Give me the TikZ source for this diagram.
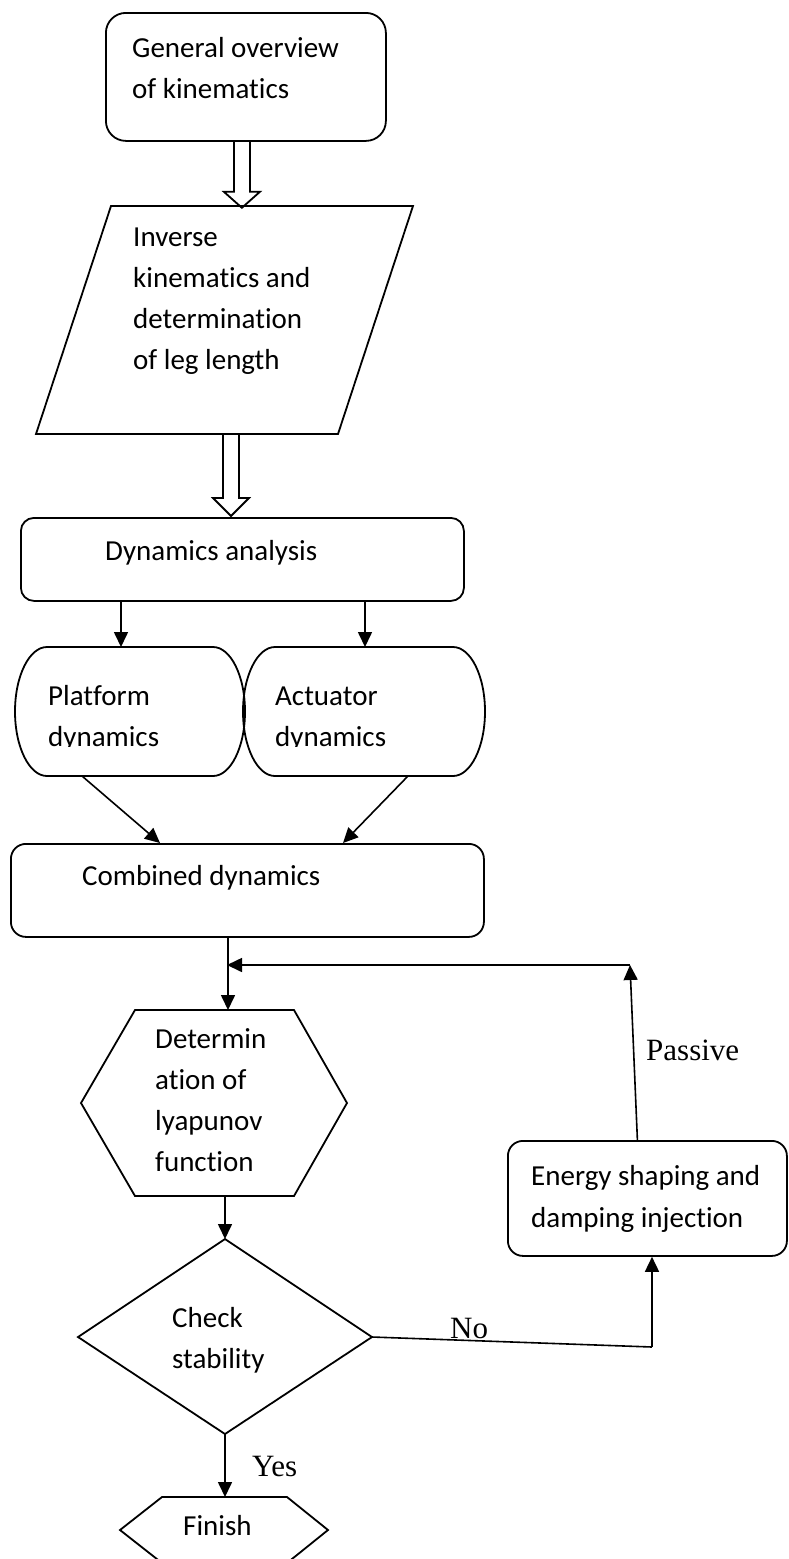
\documentclass[tikz,border=0pt]{standalone}
\usepackage{fontspec}
\setmainfont{Carlito}[Ligatures=NoCommon]
\newfontfamily\serifrm{Liberation Serif}
\usetikzlibrary{arrows.meta,calc}
\newcommand\linesof[1]{\begin{tabular}[t]{@{}l@{}}#1\end{tabular}}

\begin{document}
\begin{tikzpicture}[x=1pt,y=-1pt,
  outline/.style={draw=black,line width=1.8pt,line join=miter},
  boxr/.style={outline,rectangle,rounded corners=#1,inner sep=0pt,anchor=north west},
  flow/.style={line width=1.6pt,-{Triangle[length=15pt,width=14pt]}},
  plainline/.style={line width=1.6pt},
  txt/.style={anchor=base west,inner sep=0pt,font=\fontsize{29}{41}\selectfont},
  lbl/.style={anchor=base west,inner sep=0pt,font=\serifrm\fontsize{31}{36}\selectfont},
]
\useasboundingbox (0,0) rectangle (788,1559);
\clip (0,0) rectangle (788,1559);

% ---- general overview
\node[boxr=20, minimum width=280, minimum height=128] (gen) at (105,12) {};
\node[txt] at (132,57) {\linesof{General overview\\of kinematics}};

% block arrow into the inverse kinematics step
\coordinate (ba1) at ($(gen.south)+(-4,0)$);
\draw[outline] ($(ba1)+(-8,0)$) -- ++(0,50) -- ++(-10,0) -- ++(18,16) -- ++(18,-16) -- ++(-10,0) -- ++(0,-50);

% ---- inverse kinematics (parallelogram)
\draw[outline] (111,206) coordinate (invTL) -- (413,206) -- (338,434) -- (36,434) -- cycle;
\node[txt] at (133,246) {\linesof{Inverse\\kinematics and\\determination\\of leg length}};

% block arrow into dynamics analysis
\coordinate (invB) at (231,434);
\draw[outline] ($(invB)+(-8,0)$) -- ++(0,64) -- ++(-10,0) -- ++(18,18) -- ++(18,-18) -- ++(-10,0) -- ++(0,-64);

% ---- dynamics analysis
\node[boxr=13, minimum width=443, minimum height=83] (dyn) at (20,517) {};
\node[txt] at (105,560) {Dynamics analysis};

% ---- platform and actuator dynamics (terminator-like shapes)
\draw[outline] (47,647) -- (213,647) arc[start angle=-90,end angle=90,x radius=32,y radius=64.5]
  -- (47,776) arc[start angle=90,end angle=270,x radius=32,y radius=64.5] -- cycle;
\draw[outline] (275,647) -- (453,647) arc[start angle=-90,end angle=90,x radius=32,y radius=64.5]
  -- (275,776) arc[start angle=90,end angle=270,x radius=32,y radius=64.5] -- cycle;
\coordinate (platT) at (121,647);
\coordinate (actT) at (365,647);
\coordinate (platB) at (82,776);
\coordinate (actB) at (408,776);
\begin{scope}
  \clip (0,0) rectangle (788,746);
  \node[txt] at (48,705) {\linesof{Platform\\dynamics}};
  \node[txt] at (275,705) {\linesof{Actuator\\dynamics}};
\end{scope}
\draw[flow] (platT |- dyn.south) -- (platT);
\draw[flow] (actT |- dyn.south) -- (actT);

% ---- combined dynamics
\node[boxr=15, minimum width=473, minimum height=93] (comb) at (10,843) {};
\node[txt] at (82,885) {Combined dynamics};
\coordinate (combL) at (160,843);
\coordinate (combR) at (343,843);
\draw[flow] (platB) -- (combL);
\draw[flow] (actB) -- (combR);

% ---- lyapunov function (hexagon)
\draw[outline] (135,1010) -- (294,1010) -- (347,1103) -- (294,1196) -- (135,1196) -- (81,1103) -- cycle;
\node[txt] at (155,1048) {\fontsize{29}{41.3}\selectfont\linesof{Determin\\ation of\\lyapunov\\function}};
\coordinate (hexT) at (228,1010);
\coordinate (hexB) at (225,1196);
\draw[flow] (hexT |- comb.south) -- (hexT);

% ---- stability check (diamond)
\draw[outline] (225,1239) coordinate (chkT) -- (372,1337) coordinate (chkR)
  -- (225,1434) coordinate (chkB) -- (78,1337) -- cycle;
\node[txt] at (172,1327) {\linesof{Check\\stability}};
\draw[flow] (hexB) -- (chkT);

% ---- energy shaping
\node[boxr=15, minimum width=279, minimum height=115] (eng) at (507,1140) {};
\node[txt] at (531,1185) {\fontsize{29}{42}\selectfont\linesof{Energy shaping and\\damping injection}};

% "No" branch into energy shaping
\coordinate (noC) at (652,1347);
\draw[plainline] (chkR) -- (noC);
\draw[flow] (noC) -- (noC |- eng.south);
\node[lbl] at (450,1338) {No};

% "Passive" feedback to the main flow
\coordinate (fbC) at (630,965);
\coordinate (join) at (227,965);
\draw[flow] ($(eng.north)+(-10,0)$) -- (fbC);
\draw[flow] (fbC) -- (join);
\node[lbl] at (646,1060) {Passive};

% ---- finish
\draw[outline] (162,1497) coordinate (finT) -- (287,1497) -- (328,1530) -- (287,1563) -- (162,1563) -- (120,1530) -- cycle;
\node[txt] at (183,1535) {Finish};
\coordinate (finA) at (225,1497);
\draw[flow] (chkB) -- (finA);
\node[lbl] at (252,1476) {Yes};
\end{tikzpicture}
\end{document}
